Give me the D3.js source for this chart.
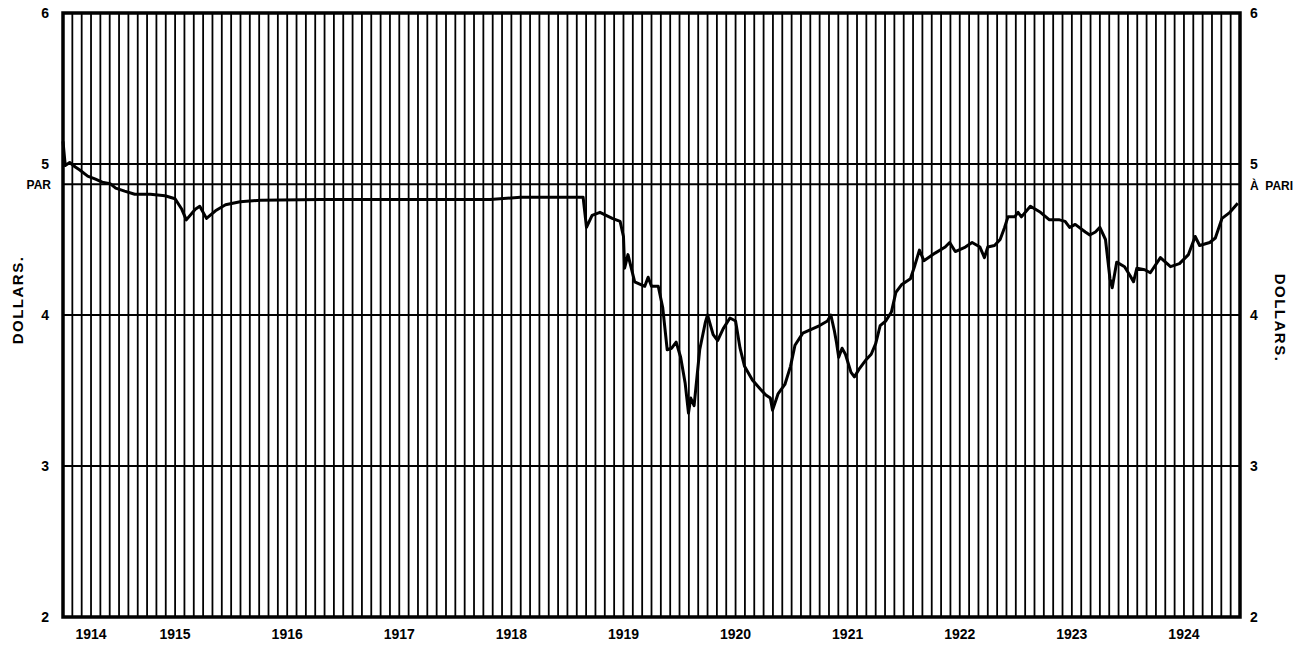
<!DOCTYPE html>
<html>
<head>
<meta charset="utf-8">
<script src="https://cdn.jsdelivr.net/npm/d3@7"></script>
<style>
  html, body { margin: 0; padding: 0; background: #fff; }
  svg { display: block; }
  .lbl { font-family: "Liberation Sans", Arial, sans-serif; font-weight: bold; fill: #000; }
</style>
</head>
<body>
<div id="chart"></div>
<script>
// Sterling exchange in New York, dollars per pound
const years = [1914, 1915, 1916, 1917, 1918, 1919, 1920, 1921, 1922, 1923, 1924];
const yTicks = [2, 3, 4, 5, 6];
const parValue = 4.8665;

// decimal year of each reading
const dates = [
  1914.50, 1914.52, 1914.56, 1914.61, 1914.65, 1914.72, 1914.79, 1914.85, 1914.92, 1914.97,
  1915.05, 1915.14, 1915.28, 1915.41, 1915.50, 1915.56, 1915.60, 1915.68, 1915.72, 1915.78,
  1915.86, 1915.95, 1916.08, 1916.26, 1916.80, 1917.40, 1918.00, 1918.31, 1918.58, 1919.14,
  1919.17, 1919.22, 1919.29, 1919.40, 1919.47, 1919.50, 1919.51, 1919.54, 1919.60, 1919.69,
  1919.72, 1919.75, 1919.81, 1919.85, 1919.89, 1919.93, 1919.97, 1920.01, 1920.05, 1920.08,
  1920.10, 1920.13, 1920.18, 1920.23, 1920.25, 1920.30, 1920.34, 1920.39, 1920.45, 1920.50,
  1920.54, 1920.58, 1920.65, 1920.72, 1920.77, 1920.81, 1920.83, 1920.88, 1920.94, 1920.99,
  1921.03, 1921.10, 1921.16, 1921.25, 1921.32, 1921.35, 1921.38, 1921.40, 1921.42, 1921.45,
  1921.48, 1921.53, 1921.56, 1921.60, 1921.66, 1921.71, 1921.75, 1921.79, 1921.84, 1921.89,
  1921.93, 1921.98, 1922.06, 1922.10, 1922.14, 1922.18, 1922.28, 1922.37, 1922.41, 1922.46,
  1922.55, 1922.61, 1922.68, 1922.72, 1922.75, 1922.81, 1922.86, 1922.90, 1922.93, 1922.99,
  1923.02, 1923.05, 1923.13, 1923.22, 1923.30, 1923.39, 1923.44, 1923.48, 1923.53, 1923.62,
  1923.66, 1923.71, 1923.75, 1923.80, 1923.84, 1923.86, 1923.90, 1923.97, 1924.02, 1924.05,
  1924.08, 1924.15, 1924.20, 1924.29, 1924.38, 1924.46, 1924.54, 1924.60, 1924.64, 1924.73,
  1924.78, 1924.84, 1924.91, 1924.98
];
const rates = [
  5.15, 4.99, 5.01, 4.98, 4.96, 4.92, 4.90, 4.88, 4.87, 4.84,
  4.82, 4.80, 4.80, 4.79, 4.77, 4.70, 4.63, 4.70, 4.72, 4.64,
  4.69, 4.73, 4.75, 4.76, 4.765, 4.765, 4.765, 4.765, 4.78, 4.78,
  4.58, 4.66, 4.68, 4.64, 4.62, 4.52, 4.31, 4.40, 4.22, 4.19,
  4.25, 4.19, 4.19, 4.05, 3.77, 3.78, 3.82, 3.72, 3.55, 3.35,
  3.45, 3.40, 3.77, 3.95, 4.00, 3.87, 3.83, 3.91, 3.98, 3.96,
  3.78, 3.66, 3.57, 3.51, 3.47, 3.45, 3.37, 3.48, 3.54, 3.66,
  3.80, 3.88, 3.90, 3.93, 3.96, 4.00, 3.90, 3.82, 3.72, 3.78,
  3.74, 3.62, 3.59, 3.64, 3.70, 3.74, 3.81, 3.93, 3.96, 4.02,
  4.15, 4.20, 4.24, 4.33, 4.43, 4.36, 4.41, 4.45, 4.48, 4.42,
  4.45, 4.48, 4.45, 4.38, 4.45, 4.46, 4.50, 4.58, 4.65, 4.65,
  4.68, 4.65, 4.72, 4.68, 4.63, 4.63, 4.62, 4.58, 4.60, 4.55,
  4.53, 4.55, 4.58, 4.50, 4.24, 4.18, 4.35, 4.32, 4.26, 4.22,
  4.31, 4.30, 4.28, 4.38, 4.32, 4.34, 4.40, 4.52, 4.46, 4.48,
  4.51, 4.64, 4.68, 4.74
];

const width = 1310;
const height = 646;
const margin = { top: 13, right: 70, bottom: 29, left: 63 };
const innerW = width - margin.left - margin.right;
const innerH = height - margin.top - margin.bottom;

const x = d3.scaleLinear().domain([1914.5, 1925]).range([0, innerW]);
const y = d3.scaleLinear().domain([2, 6]).range([innerH, 0]);

const svg = d3.select("#chart").append("svg")
  .attr("width", width)
  .attr("height", height);

const g = svg.append("g").attr("transform", `translate(${margin.left},${margin.top})`);

// monthly vertical rules
const months = d3.range(1, 126).map((i) => 1914.5 + i / 12);
g.selectAll("line.month")
  .data(months)
  .join("line")
  .attr("class", "month")
  .attr("x1", (d) => x(d))
  .attr("x2", (d) => x(d))
  .attr("y1", 0)
  .attr("y2", innerH)
  .attr("stroke", "#000")
  .attr("stroke-width", 1.8);

// horizontal rules
g.selectAll("line.hline")
  .data([3, 4, 5, parValue])
  .join("line")
  .attr("class", "hline")
  .attr("x1", 0)
  .attr("x2", innerW)
  .attr("y1", (d) => y(d))
  .attr("y2", (d) => y(d))
  .attr("stroke", "#000")
  .attr("stroke-width", 2);

// frame
g.append("rect")
  .attr("x", 0)
  .attr("y", 0)
  .attr("width", innerW)
  .attr("height", innerH)
  .attr("fill", "none")
  .attr("stroke", "#000")
  .attr("stroke-width", 3.5);

// exchange rate line
const line = d3.line()
  .x((d, i) => x(dates[i]))
  .y((d) => y(d))
  .curve(d3.curveLinear);

g.append("path")
  .datum(rates)
  .attr("fill", "none")
  .attr("stroke", "#000")
  .attr("stroke-width", 3)
  .attr("stroke-linejoin", "round")
  .attr("d", line);

// left tick labels
g.selectAll("text.yl")
  .data(yTicks)
  .join("text")
  .attr("class", "lbl yl")
  .attr("x", -14)
  .attr("y", (d) => y(d))
  .attr("dy", "0.35em")
  .attr("text-anchor", "end")
  .style("font-size", "14px")
  .text((d) => d);

g.append("text")
  .attr("class", "lbl")
  .attr("x", -12)
  .attr("y", y(parValue) + 1)
  .attr("dy", "0.35em")
  .attr("text-anchor", "end")
  .style("font-size", "12px")
  .text("PAR");

// right tick labels
g.selectAll("text.yr")
  .data(yTicks)
  .join("text")
  .attr("class", "lbl yr")
  .attr("x", innerW + 10)
  .attr("y", (d) => y(d))
  .attr("dy", "0.35em")
  .attr("text-anchor", "start")
  .style("font-size", "14px")
  .text((d) => d);

g.append("text")
  .attr("class", "lbl")
  .attr("x", innerW + 10)
  .attr("y", y(parValue) + 2)
  .attr("dy", "0.35em")
  .attr("text-anchor", "start")
  .style("font-size", "12px")
  .attr("xml:space", "preserve")
  .text("À  PARI");

// year labels, centred on the part of each year shown
g.selectAll("text.yr-lbl")
  .data(years)
  .join("text")
  .attr("class", "lbl yr-lbl")
  .attr("x", (d) => (x(Math.max(d, 1914.5)) + x(d + 1)) / 2)
  .attr("y", innerH + 22)
  .attr("text-anchor", "middle")
  .style("font-size", "14px")
  .text((d) => d);

// axis titles
svg.append("text")
  .attr("class", "lbl")
  .attr("transform", "translate(23,300) rotate(-90)")
  .attr("text-anchor", "middle")
  .style("font-size", "15px")
  .style("letter-spacing", "1.5px")
  .text("DOLLARS.");

svg.append("text")
  .attr("class", "lbl")
  .attr("transform", "translate(1275,318) rotate(90)")
  .attr("text-anchor", "middle")
  .style("font-size", "15px")
  .style("letter-spacing", "1.5px")
  .text("DOLLARS.");
</script>
</body>
</html>
